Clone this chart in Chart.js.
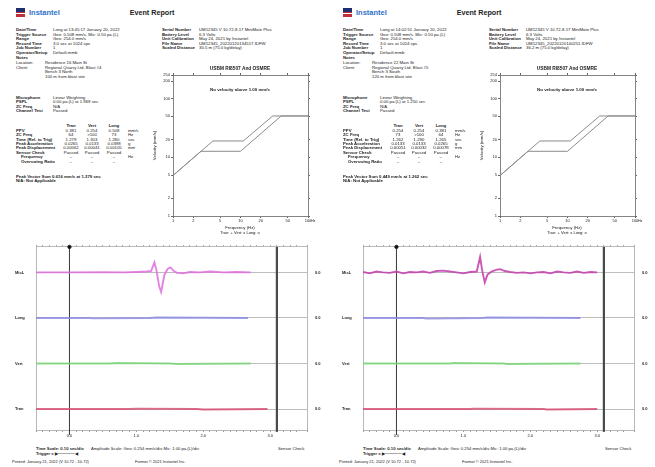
<!DOCTYPE html>
<html><head><meta charset="utf-8">
<script src="https://cdn.jsdelivr.net/npm/chart.js@4.4.1/dist/chart.umd.min.js"></script>
<style>
html,body{margin:0;padding:0;background:#fff;}
body{width:655px;height:467px;position:relative;overflow:hidden;font-family:"Liberation Sans",Arial,sans-serif;color:#1a1a1a;}
.page{position:absolute;top:0;width:328px;height:467px;}
.t{position:absolute;white-space:nowrap;font-size:4.3px;line-height:5px;}
.b{font-weight:bold;}
.c{transform:translateX(-50%);}
canvas{position:absolute;}
</style></head><body>
<div class="page" id="p0" style="left:0"></div>
<div class="page" id="p1" style="left:327px"></div>
<script>
// ---- USBM / OSMRE frequency plot ----
const freqTicks = [1, 2, 5, 10, 20, 50, 100];
const velTicks = [1, 2, 5, 10, 20, 50, 100, 200, 254];
const usbmFreq = [1, 2.6, 10, 40, 100];
const usbmVel = [4.9, 12.7, 12.7, 50.8, 50.8];
const osmreFreq = [1, 3.9, 11, 30, 100];
const osmreVel = [4.9, 19.05, 19.05, 50.8, 50.8];

// ---- waveforms: time (sec) and offset from channel baseline ----
const channelNames = ['Tran', 'Vert', 'Long', 'MicL'];
const timeTicks = [0, 1, 2, 3];
const triggerTime = 0;
const recordEnd = 3.1;

const leftMicT = [-0.5, 0.0, 0.5, 0.82, 1.0, 1.15, 1.22, 1.27, 1.30, 1.34, 1.37, 1.42, 1.47, 1.51, 1.56, 1.61, 1.70, 1.80, 1.95, 2.10, 2.30, 2.50, 2.71];
const leftMicV = [0, 0, 0.005, 0, 0.01, 0.02, 0.03, 0.22, 0.05, -0.30, -0.43, -0.05, 0.08, 0.11, 0.03, -0.01, -0.02, 0.01, 0.0, 0.02, 0.0, 0.01, 0];
const leftLongT = [-0.5, 0.3, 0.35, 1.2, 1.3, 2.67];
const leftLongV = [0, 0, -0.01, 0, 0.01, 0];
const leftVertT = [-0.5, 0.6, 0.7, 1.5, 1.6, 2.71];
const leftVertV = [0, 0, 0.01, 0, -0.01, 0];
const leftTranT = [-0.5, 0.9, 1.0, 1.9, 2.0, 2.96];
const leftTranV = [0, 0, 0.01, 0, -0.01, 0];

const rightMicT = [-0.5, -0.4, -0.3, -0.2, -0.1, 0, 0.1, 0.2, 0.3, 0.4, 0.5, 0.6, 0.7, 0.8, 0.9, 1.0, 1.1, 1.2, 1.25, 1.28, 1.32, 1.36, 1.42, 1.5, 1.55, 1.62, 1.7, 1.8, 1.9, 2.0, 2.1, 2.2, 2.3, 2.4, 2.5, 2.6, 2.7, 2.8, 2.9, 3.0];
const rightMicV = [0.01, -0.02, 0.02, 0, -0.01, 0.02, -0.02, 0.01, 0.0, 0.02, -0.01, 0.03, 0.04, 0.02, 0.0, -0.02, 0.01, 0.02, 0.34, 0.05, -0.22, -0.05, 0.02, 0.06, 0.07, 0.03, 0.01, -0.01, 0.0, -0.02, 0.0, 0.01, -0.02, 0.02, 0.0, -0.01, 0.02, -0.01, 0.01, 0];
const rightLongT = [-0.5, 0.4, 0.45, 1.3, 1.35, 2.75];
const rightLongV = [0, 0, -0.015, 0, 0.01, 0];
const rightVertT = [-0.5, 0.8, 0.85, 1.6, 1.65, 2.75];
const rightVertV = [0, 0, 0.01, 0, -0.01, 0];
const rightTranT = [-0.5, 1.1, 1.15, 2.2, 2.25, 3.0];
const rightTranV = [0, 0, 0.01, 0, -0.01, 0];

const traceColors = ['rgba(215,80,115,0.85)', 'rgba(125,215,125,0.85)', 'rgba(140,140,228,0.85)', 'rgba(222,110,222,0.85)'];

const pages = [
  {
    info: [['Date/Time', 'Long at 13:45:17 January 20, 2022'], ['Trigger Source', 'Geo: 0.508 mm/s, Mic: 0.50 pa.(L)'], ['Range', 'Geo: 254.0 mm/s'], ['Record Time', '3.0 sec at 1024 sps'], ['Job Number', '1'], ['Operator/Setup', 'Default.mmb'], ['Notes', '']],
    notes: [['Location:', 'Residence 16 Main St'], ['Client:', 'Regional Quarry Ltd. Blast #4'], ['', 'Bench 3 North'], ['', '100 m from blast site']],
    unit: [['Serial Number', 'UM12345 V 10.72-8.17 MiniMate Plus'], ['Battery Level', '6.3 Volts'], ['Unit Calibration', 'May 24, 2021 by Instantel'], ['File Name', 'UM12345_20220120134517.IDFW'], ['Scaled Distance', '30.5 m (75.0 kg/delay)']],
    mic: [['Microphone', 'Linear Weighting'], ['PSPL', '0.00 pa.(L) at 1.969 sec'], ['ZC Freq', 'N/A'], ['Channel Test', 'Passed']],
    table: [['PPV', '0.381', '0.254', '0.508', 'mm/s'], ['ZC Freq', '64', '>100', '73', 'Hz'], ['Time (Rel. to Trig)', '1.279', '1.303', '1.280', 'sec'], ['Peak Acceleration', '0.0265', '0.0133', '0.0398', 'g'], ['Peak Displacement', '0.00062', '0.00041', '0.00105', 'mm'], ['Sensor Check', 'Passed', 'Passed', 'Passed', ''], ['Frequency', '–', '–', '–', 'Hz'], ['Overswing Ratio', '–', '–', '–', '']],
    pvs: 'Peak Vector Sum  0.616 mm/s at 1.279 sec',
    printed: 'Printed: January 21, 2022 (V 10.72 - 10.72)',
    traces: [[leftTranT, leftTranV], [leftVertT, leftVertV], [leftLongT, leftLongV], [leftMicT, leftMicV]],
    micColor: traceColors[3]
  },
  {
    info: [['Date/Time', 'Long at 14:02:51 January 20, 2022'], ['Trigger Source', 'Geo: 0.508 mm/s, Mic: 0.50 pa.(L)'], ['Range', 'Geo: 254.0 mm/s'], ['Record Time', '3.0 sec at 1024 sps'], ['Job Number', '1'], ['Operator/Setup', 'Default.mmb'], ['Notes', '']],
    notes: [['Location:', 'Residence 22 Main St'], ['Client:', 'Regional Quarry Ltd. Blast #5'], ['', 'Bench 3 South'], ['', '120 m from blast site']],
    unit: [['Serial Number', 'UM12345 V 10.72-8.17 MiniMate Plus'], ['Battery Level', '6.3 Volts'], ['Unit Calibration', 'May 24, 2021 by Instantel'], ['File Name', 'UM12345_20220120140251.IDFW'], ['Scaled Distance', '36.2 m (75.0 kg/delay)']],
    mic: [['Microphone', 'Linear Weighting'], ['PSPL', '0.00 pa.(L) at 1.250 sec'], ['ZC Freq', 'N/A'], ['Channel Test', 'Passed']],
    table: [['PPV', '0.254', '0.254', '0.381', 'mm/s'], ['ZC Freq', '73', '>100', '64', 'Hz'], ['Time (Rel. to Trig)', '1.262', '1.290', '1.265', 'sec'], ['Peak Acceleration', '0.0133', '0.0133', '0.0265', 'g'], ['Peak Displacement', '0.00051', '0.00032', '0.00078', 'mm'], ['Sensor Check', 'Passed', 'Passed', 'Passed', ''], ['Frequency', '–', '–', '–', 'Hz'], ['Overswing Ratio', '–', '–', '–', '']],
    pvs: 'Peak Vector Sum  0.449 mm/s at 1.262 sec',
    printed: 'Printed: January 21, 2022 (V 10.72 - 10.72)',
    traces: [[rightTranT, rightTranV], [rightVertT, rightVertV], [rightLongT, rightLongV], [rightMicT, rightMicV]],
    micColor: 'rgba(195,70,175,0.9)'
  }
];

Chart.defaults.font.family = '"Liberation Sans", Arial, sans-serif';
Chart.defaults.font.size = 4;
Chart.defaults.color = '#222';

function txt(page, x, y, s, cls, style) {
  const d = document.createElement('div');
  d.className = 't ' + (cls || '');
  d.style.left = x + 'px';
  d.style.top = (y - 2.5) + 'px';
  d.textContent = s;
  if (style) Object.assign(d.style, style);
  page.appendChild(d);
  return d;
}

function fixW(w) { return s => { s.width = w; s.paddingLeft = s.paddingRight = s.paddingTop = s.paddingBottom = 0; }; }
function fixH(h) { return s => { s.height = h; s.paddingLeft = s.paddingRight = s.paddingTop = s.paddingBottom = 0; }; }

function makeCanvas(page, x, y, w, h) {
  const c = document.createElement('canvas');
  c.width = w; c.height = h;
  c.style.left = x + 'px'; c.style.top = y + 'px';
  c.style.width = w + 'px'; c.style.height = h + 'px';
  page.appendChild(c);
  return c;
}

function drawUsbm(page) {
  const c = makeCanvas(page, 158, 70, 160, 156);
  const curve = (f, v) => f.map((x, i) => ({x: x, y: v[i]}));
  const tickOnly = list => s => { s.ticks = list.map(v => ({value: v})); };
  new Chart(c, {
    type: 'scatter',
    data: {datasets: [
      {data: curve(usbmFreq, usbmVel), showLine: true, borderColor: '#8a8a8a', borderWidth: 1, pointRadius: 0},
      {data: curve(osmreFreq, osmreVel), showLine: true, borderColor: '#8a8a8a', borderWidth: 1, pointRadius: 0}
    ]},
    options: {
      responsive: false, animation: false, events: [],
      layout: {padding: 0},
      plugins: {legend: {display: false}, tooltip: {enabled: false}},
      scales: {
        x: {type: 'logarithmic', min: 1, max: 100, afterBuildTicks: tickOnly(freqTicks), afterFit: fixH(10),
            grid: {drawOnChartArea: false, tickLength: 2, color: '#666'}, border: {color: '#666', width: 0.8},
            ticks: {padding: 0.5, maxRotation: 0, autoSkip: false, callback: v => String(v)}},
        xt: {type: 'logarithmic', position: 'top', min: 1, max: 100, afterBuildTicks: tickOnly(freqTicks), afterFit: fixH(5),
            grid: {drawOnChartArea: false, tickLength: 2, color: '#666'}, border: {color: '#666', width: 0.8}, ticks: {display: false}},
        y: {type: 'logarithmic', min: 1, max: 254, afterBuildTicks: tickOnly(velTicks), afterFit: fixW(15),
            grid: {drawOnChartArea: false, tickLength: 2, color: '#666'}, border: {color: '#666', width: 0.8},
            ticks: {padding: 1, autoSkip: false, callback: v => String(v)}},
        yr: {type: 'logarithmic', position: 'right', min: 1, max: 254, afterBuildTicks: tickOnly(velTicks), afterFit: fixW(10),
            grid: {drawOnChartArea: false, tickLength: 2, color: '#666'}, border: {color: '#666', width: 0.8}, ticks: {display: false}}
      }
    }
  });
  txt(page, 240, 68.5, 'USBM RI8507 And OSMRE', 'b c', {fontSize: '4.8px'});
  txt(page, 240, 89.5, 'No velocity above 1.00 mm/s', 'b c', {fontSize: '4.4px'});
  txt(page, 240, 227.5, 'Frequency (Hz)', 'c', {fontSize: '4.3px'});
  txt(page, 240, 232.5, 'Tran: +  Vert: x  Long: o', 'c', {fontSize: '4px'});
  txt(page, 311, 221, 'Hz', '', {fontSize: '3.6px'});
  txt(page, 154, 145.5, 'Velocity (mm/s)', '', {fontSize: '4.3px', transform: 'translate(-50%,0) rotate(-90deg)'});
}

function drawWave(page, p) {
  const c = makeCanvas(page, 15, 242, 310, 198);
  const sets = p.traces.map((tr, i) => ({
    data: tr[0].map((t, k) => ({x: t, y: i + tr[1][k]})),
    borderColor: i === 3 ? p.micColor : traceColors[i], borderWidth: 1.9, pointRadius: 0, tension: 0
  }));
  sets.push({data: [{x: triggerTime, y: -0.57}, {x: triggerTime, y: 3.56}], borderColor: '#222', borderWidth: 0.9,
    pointStyle: ['triangle', 'circle'], pointRadius: [2.6, 1.7], backgroundColor: '#111', clip: false});
  sets.push({data: [{x: recordEnd, y: -0.5}, {x: recordEnd, y: 3.56}], borderColor: '#4a4a4a', borderWidth: 2.2, pointRadius: 0, clip: false});
  const chTicks = s => { s.ticks = channelNames.map((n, i) => ({value: i})); };
  const timeLabel = v => {
    const r = Math.round(v);
    return (Math.abs(v - r) < 1e-6 && timeTicks.includes(r)) ? r.toFixed(1) : '';
  };
  new Chart(c, {
    type: 'line',
    data: {datasets: sets},
    options: {
      responsive: false, animation: false, events: [],
      layout: {padding: 0},
      plugins: {legend: {display: false}, tooltip: {enabled: false}},
      scales: {
        x: {type: 'linear', min: -0.5, max: 3.55, afterFit: fixH(10),
            grid: {drawOnChartArea: false, tickLength: 2, color: '#999'}, border: {color: '#999', width: 0.7},
            ticks: {stepSize: 0.1, autoSkip: false, maxRotation: 0, padding: 1, callback: timeLabel}},
        xt: {type: 'linear', position: 'top', min: -0.5, max: 3.55, afterFit: fixH(3),
            grid: {drawOnChartArea: false, tickLength: 2, color: '#aaa'}, border: {color: '#999', width: 0.7},
            ticks: {stepSize: 0.1, autoSkip: false, display: false}},
        y: {type: 'linear', min: -0.46, max: 3.56, afterBuildTicks: chTicks, afterFit: fixW(21),
            grid: {color: '#b5b5b5', lineWidth: 0.9, drawTicks: false}, border: {color: '#999', width: 0.7},
            ticks: {crossAlign: 'far', padding: 0, font: {weight: 'bold', size: 4}, callback: v => channelNames[v]}},
        yr: {type: 'linear', position: 'right', min: -0.46, max: 3.56, afterBuildTicks: chTicks, afterFit: fixW(18),
            grid: {drawOnChartArea: false, drawTicks: false}, border: {color: '#999', width: 0.7},
            ticks: {padding: 8, font: {weight: 'bold', size: 4}, callback: () => '0.0'}}
      }
    }
  });
  txt(page, 36, 448.3, 'Time Scale: 0.10 sec/div', 'b', {fontSize: '4.2px'});
  txt(page, 91, 448.3, 'Amplitude Scale: Geo: 0.254 mm/s/div  Mic: 1.00 pa.(L)/div', '', {fontSize: '4.2px'});
  txt(page, 278, 448.3, 'Sensor Check', '', {fontSize: '4.2px'});
  txt(page, 36, 453.3, 'Trigger = \u25B6\u2014\u2014\u2014\u2014\u25C0', 'b', {fontSize: '4.2px'});
  txt(page, 12, 461.5, p.printed, '', {fontSize: '4px'});
  txt(page, 135, 461.5, 'Format \u00A9 2021 Instantel Inc.', '', {fontSize: '4px'});
}

function drawText(page, p) {
  // header
  const logo = document.createElement('div');
  Object.assign(logo.style, {position: 'absolute', left: '16px', top: '8px', width: '9px', height: '9px',
    background: 'linear-gradient(to bottom,#1f2f6e 0 45%,#c0303a 45% 60%,#fff 60% 68%,#c0303a 68% 100%)'});
  page.appendChild(logo);
  txt(page, 29, 12.5, 'Instantel', 'b', {fontSize: '7.5px', lineHeight: '9px', top: '8px', color: '#2f72c8'});
  txt(page, 152, 12, 'Event Report', 'b c', {fontSize: '7.2px', lineHeight: '9px', top: '7.5px', color: '#222'});

  p.info.forEach((r, i) => { const y = 29.5 + i * 4.6; txt(page, 16, y, r[0], 'b'); txt(page, 53, y, r[1]); });
  p.notes.forEach((r, i) => { const y = 62.5 + i * 4.6; if (r[0]) txt(page, 16, y, r[0]); txt(page, 45, y, r[1]); });
  p.unit.forEach((r, i) => { const y = 29.5 + i * 4.6; txt(page, 162, y, r[0], 'b'); txt(page, 199, y, r[1]); });
  p.mic.forEach((r, i) => { const y = 97 + i * 4.6; txt(page, 16, y, r[0], 'b'); txt(page, 53, y, r[1]); });

  const cols = [71, 92, 114];
  ['Tran', 'Vert', 'Long'].forEach((h, i) => txt(page, cols[i], 125.5, h, 'b c'));
  p.table.forEach((r, i) => {
    const y = 130.3 + i * 4.4;
    const indent = (r[0] === 'Frequency' || r[0] === 'Overswing Ratio');
    txt(page, indent ? 21 : 16, y, r[0], 'b');
    for (let k = 0; k < 3; k++) txt(page, cols[k], y, r[k + 1], 'c');
    if (r[4]) txt(page, 128, y, r[4]);
  });
  txt(page, 16, 176, p.pvs, 'b');
  txt(page, 16, 180.5, 'N/A: Not Applicable', 'b');
}

pages.forEach((p, i) => {
  const page = document.getElementById('p' + i);
  drawText(page, p);
  drawUsbm(page);
  drawWave(page, p);
});
</script>
</body></html>
